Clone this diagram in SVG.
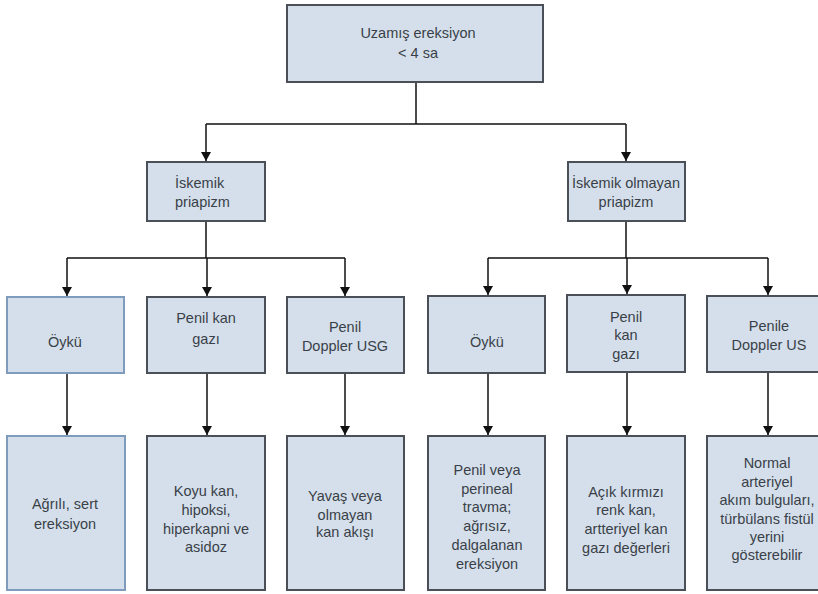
<svg xmlns="http://www.w3.org/2000/svg" width="818" height="594" viewBox="0 0 818 594">
<defs>
<style>
.box{fill:#d4dfeb;stroke:#4b5058;stroke-width:2}
.boxb{fill:#d4dfeb;stroke:#7f9bbd;stroke-width:2}
.t{font-family:"Liberation Sans",Arial,sans-serif;font-size:14.5px;fill:#3a3f48;text-anchor:middle}
.ts{font-family:"Liberation Sans",Arial,sans-serif;font-size:14.5px;fill:#3a3f48;text-anchor:start}
.c{fill:none;stroke:#111;stroke-width:1.5}
</style>
<marker id="ah" markerWidth="10" markerHeight="10" refX="9" refY="5" orient="auto" markerUnits="userSpaceOnUse" viewBox="0 0 10 10">
<path d="M0,0 L9,5 L0,10 Z" fill="#111"/>
</marker>
</defs>
<rect width="818" height="594" fill="#ffffff"/>

<g id="connectors">
<path class="c" d="M416,82 V124 M206,124 H626"/>
<path class="c" d="M206,124 V161" marker-end="url(#ah)"/>
<path class="c" d="M626,124 V161" marker-end="url(#ah)"/>
<path class="c" d="M206,221 V258 M67,258 H345 M626,221 V258 M488,258 H768"/>
<path class="c" d="M67,258 V296" marker-end="url(#ah)"/>
<path class="c" d="M207,258 V296" marker-end="url(#ah)"/>
<path class="c" d="M345,258 V296" marker-end="url(#ah)"/>
<path class="c" d="M488,258 V295" marker-end="url(#ah)"/>
<path class="c" d="M627,258 V294" marker-end="url(#ah)"/>
<path class="c" d="M768,258 V295" marker-end="url(#ah)"/>
<path class="c" d="M67,373 V435" marker-end="url(#ah)"/>
<path class="c" d="M207,373 V435" marker-end="url(#ah)"/>
<path class="c" d="M345,373 V435" marker-end="url(#ah)"/>
<path class="c" d="M488,373 V435" marker-end="url(#ah)"/>
<path class="c" d="M627,372 V435" marker-end="url(#ah)"/>
<path class="c" d="M768,372 V435" marker-end="url(#ah)"/>
</g>

<g id="root">
<rect class="box" x="287" y="5" width="256" height="77"/>
<text class="t" x="418" y="38">Uzamış ereksiyon</text>
<text class="t" x="418" y="58">&lt; 4 sa</text>
</g>

<g id="iskemik">
<rect class="box" x="147" y="162" width="118" height="59"/>
<text class="ts" x="175" y="188">İskemik</text>
<text class="ts" x="175" y="207">priapizm</text>
</g>

<g id="iskemik-olmayan">
<rect class="box" x="568" y="162" width="117" height="59"/>
<text class="t" x="626" y="188">İskemik olmayan</text>
<text class="t" x="626" y="207">priapizm</text>
</g>

<g id="oyku1">
<rect class="boxb" x="7" y="297" width="117" height="76"/>
<text class="t" x="65" y="347">Öykü</text>
</g>

<g id="kangazi1">
<rect class="box" x="147" y="297" width="118" height="76"/>
<text class="t" x="206" y="323">Penil kan</text>
<text class="t" x="206" y="344">gazı</text>
</g>

<g id="doppler1">
<rect class="box" x="287" y="297" width="117" height="76"/>
<text class="t" x="345" y="332">Penil</text>
<text class="t" x="345" y="351">Doppler USG</text>
</g>

<g id="oyku2">
<rect class="box" x="428" y="296" width="117" height="77"/>
<text class="t" x="487" y="347">Öykü</text>
</g>

<g id="kangazi2">
<rect class="box" x="567" y="295" width="118" height="77"/>
<text class="t" x="626" y="322">Penil</text>
<text class="t" x="626" y="340">kan</text>
<text class="t" x="626" y="359">gazı</text>
</g>

<g id="doppler2">
<rect class="box" x="707" y="296" width="120" height="76"/>
<text class="t" x="769" y="331">Penile</text>
<text class="t" x="769" y="350">Doppler US</text>
</g>

<g id="sonuc1">
<rect class="boxb" x="7" y="436" width="118" height="154"/>
<text class="t" x="65" y="509">Ağrılı, sert</text>
<text class="t" x="65" y="529">ereksiyon</text>
</g>

<g id="sonuc2">
<rect class="box" x="147" y="436" width="118" height="154"/>
<text class="t" x="206" y="496">Koyu kan,</text>
<text class="t" x="206" y="515">hipoksi,</text>
<text class="t" x="206" y="534">hiperkapni ve</text>
<text class="t" x="206" y="552">asidoz</text>
</g>

<g id="sonuc3">
<rect class="box" x="287" y="436" width="117" height="154"/>
<text class="t" x="345" y="501">Yavaş veya</text>
<text class="t" x="345" y="520">olmayan</text>
<text class="t" x="345" y="537">kan akışı</text>
</g>

<g id="sonuc4">
<rect class="box" x="428" y="436" width="117" height="154"/>
<text class="t" x="487" y="475">Penil veya</text>
<text class="t" x="487" y="494">perineal</text>
<text class="t" x="487" y="512">travma;</text>
<text class="t" x="487" y="531">ağrısız,</text>
<text class="t" x="487" y="550">dalgalanan</text>
<text class="t" x="487" y="569">ereksiyon</text>
</g>

<g id="sonuc5">
<rect class="box" x="567" y="436" width="118" height="154"/>
<text class="t" x="626" y="497">Açık kırmızı</text>
<text class="t" x="626" y="515">renk kan,</text>
<text class="t" x="626" y="534">artteriyel kan</text>
<text class="t" x="626" y="553">gazı değerleri</text>
</g>

<g id="sonuc6">
<rect class="box" x="707" y="436" width="120" height="154"/>
<text class="t" x="767" y="468">Normal</text>
<text class="t" x="767" y="487">arteriyel</text>
<text class="t" x="767" y="505">akım bulguları,</text>
<text class="t" x="767" y="524">türbülans fistül</text>
<text class="t" x="767" y="542">yerini</text>
<text class="t" x="767" y="560">gösterebilir</text>
</g>
</svg>
